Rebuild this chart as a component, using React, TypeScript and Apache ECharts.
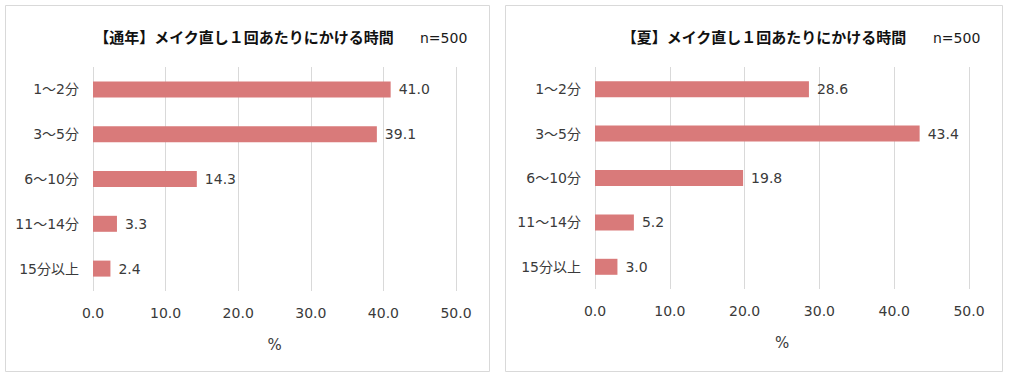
import React, { useEffect, useRef } from "react";
import * as echarts from "echarts";

const categories = ["1～2分", "3～5分", "6～10分", "11～14分", "15分以上"];
const yearRound = [41.0, 39.1, 14.3, 3.3, 2.4];
const summer = [28.6, 43.4, 19.8, 5.2, 3.0];
const titleLeft = "【通年】メイク直し１回あたりにかける時間";
const titleRight = "【夏】メイク直し１回あたりにかける時間";
const sampleLabel = "n=500";
const axisName = "%";

const FONT = "'DejaVu Sans', 'Noto Sans CJK JP', sans-serif";
const TXT = "#3a3a3a";
const GRID = "#d9d9d9";
const BAR = "#d97a7a";

export default function App() {
  const ref = useRef<HTMLDivElement>(null);
  useEffect(() => {
    if (!ref.current) return;
    const chart = echarts.init(ref.current, undefined, { renderer: "svg" });
    const xAxis = (gi: number) => ({
      type: "value",
      gridIndex: gi,
      min: 0,
      max: 50,
      interval: 10,
      name: axisName,
      nameLocation: "middle",
      nameGap: 46,
      nameTextStyle: { color: TXT, fontSize: 15, fontFamily: FONT },
      axisLine: { show: false },
      axisTick: { show: false },
      axisLabel: {
        color: TXT,
        fontSize: 14,
        fontFamily: FONT,
        margin: 15,
        formatter: (v: number) => v.toFixed(1),
      },
      splitLine: { show: true, lineStyle: { color: GRID, width: 1 } },
    });
    const yAxis = (gi: number) => ({
      type: "category",
      gridIndex: gi,
      data: categories,
      inverse: true,
      axisLine: { show: false },
      axisTick: { show: false },
      axisLabel: { color: TXT, fontSize: 14, fontFamily: FONT, margin: 14 },
    });
    const series = (gi: number, data: number[]) => ({
      type: "bar",
      xAxisIndex: gi,
      yAxisIndex: gi,
      data,
      barWidth: 16,
      itemStyle: { color: BAR },
      label: {
        show: true,
        position: "right",
        distance: 8,
        color: TXT,
        fontSize: 14,
        fontFamily: FONT,
        formatter: (p: any) => Number(p.value).toFixed(1),
      },
    });
    const titleText = (x: number, text: string) => ({
      type: "text",
      x,
      y: 38,
      style: {
        text,
        fill: "#111111",
        font: `bold 15px ${FONT}`,
        textAlign: "center",
        textVerticalAlign: "middle",
      },
    });
    const nText = (x: number) => ({
      type: "text",
      x,
      y: 38,
      style: {
        text: sampleLabel,
        fill: "#1a1a1a",
        font: `14px ${FONT}`,
        textAlign: "left",
        textVerticalAlign: "middle",
      },
    });
    chart.setOption({
      animation: false,
      backgroundColor: "#ffffff",
      grid: [
        { left: 93, right: 1009 - 456, top: 67, bottom: 376 - 291 },
        { left: 595, right: 1009 - 969, top: 67, bottom: 376 - 289 },
      ],
      xAxis: [xAxis(0), xAxis(1)],
      yAxis: [yAxis(0), yAxis(1)],
      series: [series(0, yearRound), series(1, summer)],
      graphic: [
        {
          type: "rect",
          shape: { x: 5.5, y: 5.5, width: 484, height: 366 },
          style: { fill: "none", stroke: GRID, lineWidth: 1 },
          silent: true,
        },
        {
          type: "rect",
          shape: { x: 505.5, y: 5.5, width: 497, height: 366 },
          style: { fill: "none", stroke: GRID, lineWidth: 1 },
          silent: true,
        },
        titleText(244, titleLeft),
        nText(420),
        titleText(764, titleRight),
        nText(933),
      ],
    });
    return () => chart.dispose();
  }, []);
  return (
    <div
      ref={ref}
      style={{ position: "fixed", left: 0, top: 0, width: 1009, height: 376 }}
    />
  );
}
